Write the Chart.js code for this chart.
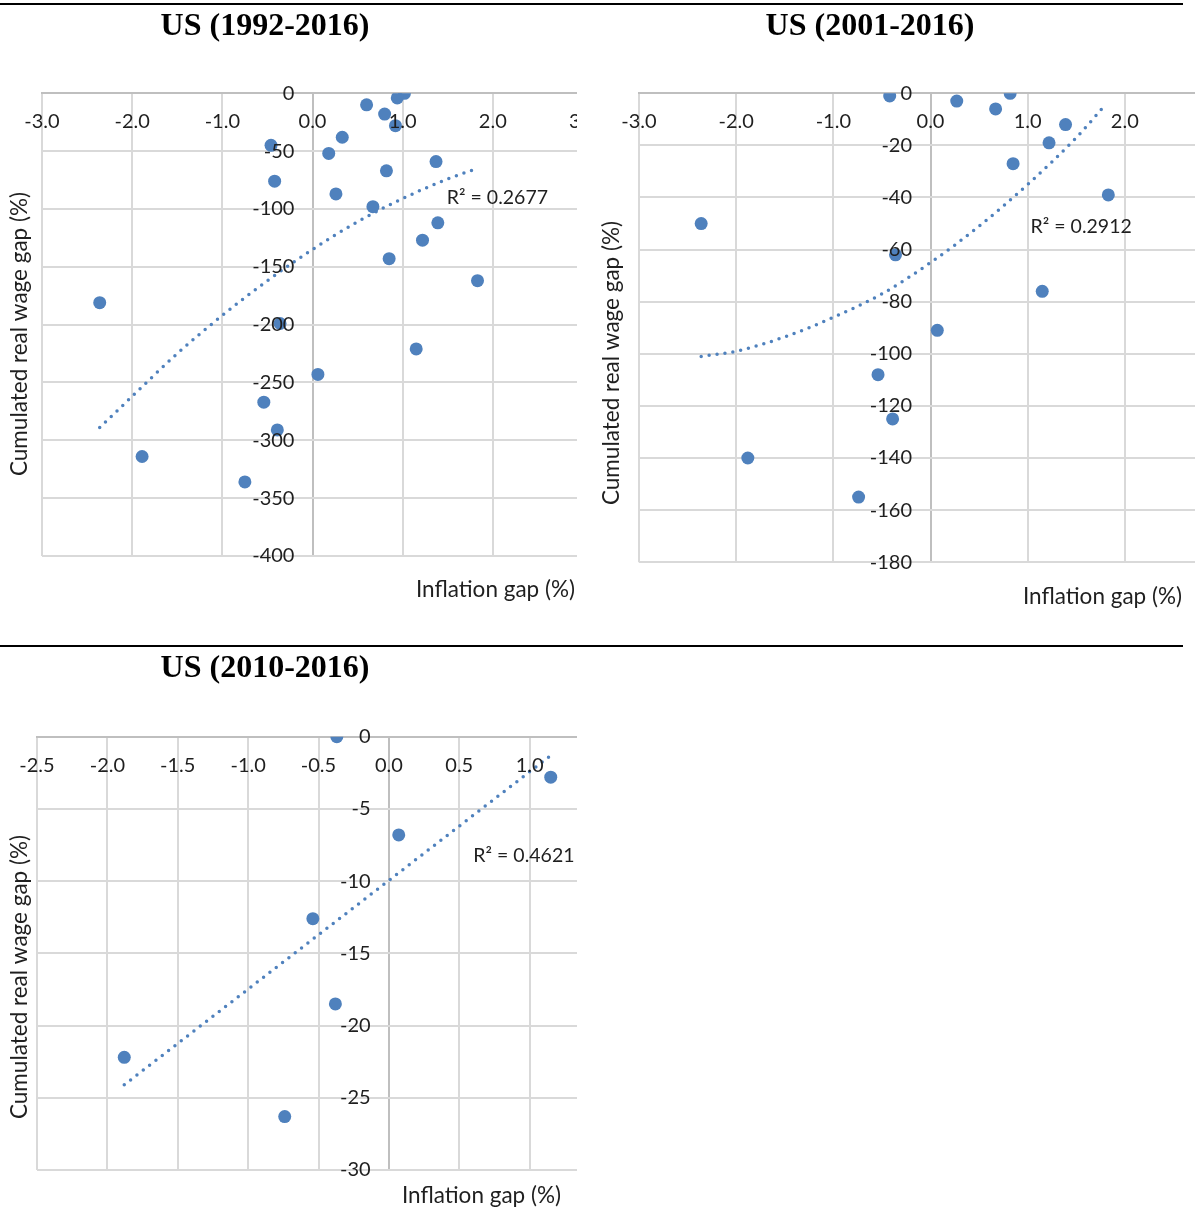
<!DOCTYPE html>
<html>
<head>
<meta charset="utf-8">
<title>US inflation gap vs cumulated real wage gap</title>
<script src="https://cdn.jsdelivr.net/npm/chart.js@4.4.1/dist/chart.umd.min.js"></script>
<style>
    html, body { margin: 0; padding: 0; background: #fff; overflow: hidden; }
    body { position: relative; width: 1195px; height: 1213px; }
    .rule { position: absolute; left: 0; width: 1183px; height: 2px; background: #000; }
    .title {
        position: absolute;
        font-family: 'Liberation Serif', 'Times New Roman', serif;
        font-weight: bold;
        font-size: 32px;
        line-height: 32px;
        white-space: nowrap;
        transform: translateX(-50%);
        z-index: 2;
    }
    .panel { position: absolute; overflow: hidden; }
    .panel canvas { position: absolute; left: 0; top: 0; }
</style>
</head>
<body>
<div class="rule" style="top:3px"></div>
<div class="rule" style="top:645px"></div>

<div class="title" style="left:265px; top:8px">US (1992-2016)</div>
<div class="title" style="left:870px; top:8px">US (2001-2016)</div>
<div class="title" style="left:265px; top:650px">US (2010-2016)</div>

<div class="panel" style="left:0; top:0; width:577px; height:620px">
    <canvas id="chart1992" width="640" height="620"></canvas>
</div>
<div class="panel" style="left:600px; top:0; width:595px; height:620px">
    <canvas id="chart2001" width="660" height="620"></canvas>
</div>
<div class="panel" style="left:0; top:640px; width:577px; height:573px">
    <canvas id="chart2010" width="640" height="573"></canvas>
</div>

<script>
// --- values ---

// US 1992-2016
const gap1992 = [1.02, 0.94, 0.60, 0.80, 0.92, 0.33, -0.46, 0.18, 1.37, 0.82, -0.42, 0.26, 0.67,
    1.39, 1.22, 0.85, 1.83, -2.36, -0.36, 1.15, 0.06, -0.54, -0.39, -1.89, -0.75];
const wage1992 = [0, -4, -10, -18, -28, -38, -45, -52, -59, -67, -76, -87, -98,
    -112, -127, -143, -162, -181, -199, -221, -243, -267, -291, -314, -336];
const trendX1992 = [-2.36, -2.0, -1.5, -1.0, -0.5, 0, 0.5, 1.0, 1.5, 1.83];
const trendY1992 = [-289, -262, -225, -192, -162, -135, -111, -91, -74, -65];
const xTicks1992 = [-3, -2, -1, 0, 1, 2, 3];
const yTicks1992 = [-400, -350, -300, -250, -200, -150, -100, -50, 0];

// US 2001-2016
const gap2001 = [-0.42, 0.27, 0.67, 0.82, 1.39, 1.22, 0.85, 1.83, -2.36, -0.36, 1.15, 0.07,
    -0.54, -0.39, -1.88, -0.74];
const wage2001 = [-1, -3, -6, 0, -12, -19, -27, -39, -50, -62, -76, -91,
    -108, -125, -140, -155];
const trendX2001 = [-2.36, -2.0, -1.5, -1.0, -0.5, 0, 0.5, 1.0, 1.5, 1.81];
const trendY2001 = [-101, -99, -93.5, -86, -77, -65, -51, -35, -17, -4];
const xTicks2001 = [-3, -2, -1, 0, 1, 2, 3];
const yTicks2001 = [-180, -160, -140, -120, -100, -80, -60, -40, -20, 0];

// US 2010-2016
const gap2010 = [-0.37, 1.15, 0.07, -0.54, -0.38, -1.88, -0.74];
const wage2010 = [0, -2.8, -6.8, -12.6, -18.5, -22.2, -26.3];
const trendX2010 = [-1.88, 1.15];
const trendY2010 = [-24.1, -1.3];
const xTicks2010 = [-2.5, -2.0, -1.5, -1.0, -0.5, 0, 0.5, 1.0, 1.5];
const yTicks2010 = [-30, -25, -20, -15, -10, -5, 0];

const BLUE = '#4f81bd';
const GRID = '#d9d9d9';
const AXIS = '#bfbfbf';
const TEXT = '#1f1f1f';
const FONT = 'Lato, "Noto Sans", sans-serif';

function pairs(xs, ys) {
    return xs.map((x, i) => ({ x: x, y: ys[i] }));
}

// axis titles and the R² note, drawn on the chart canvas
const captions = {
    id: 'captions',
    afterDraw(chart, args, opts) {
        const ctx = chart.ctx;
        ctx.save();
        ctx.fillStyle = TEXT;
        ctx.textBaseline = 'middle';

        ctx.font = '22.5px ' + FONT;
        ctx.save();
        ctx.translate(opts.yTitle.x, opts.yTitle.y);
        ctx.rotate(-Math.PI / 2);
        ctx.textAlign = 'center';
        ctx.fillText('Cumulated real wage gap (%)', 0, 0);
        ctx.restore();

        ctx.textAlign = 'right';
        ctx.fillText('Inflation gap (%)', opts.xTitle.x, opts.xTitle.y);

        // R² sits next to the trend line, anchored in data units
        ctx.font = '19.5px ' + FONT;
        ctx.textAlign = 'left';
        const px = chart.scales.x.getPixelForValue(opts.r2.at[0]);
        const py = chart.scales.y.getPixelForValue(opts.r2.at[1]);
        ctx.fillText(opts.r2.text, px, py);
        ctx.restore();
    }
};

function drawPanel(canvasId, p) {
    const canvas = document.getElementById(canvasId);
    if (!canvas) {
        console.error('canvas not found: ' + canvasId);
        return null;
    }

    return new Chart(canvas, {
        type: 'scatter',
        data: {
            datasets: [
                {
                    type: 'line',
                    label: 'Trend',
                    data: pairs(p.trendX, p.trendY),
                    borderColor: BLUE,
                    borderWidth: 3.5,
                    borderDash: [0, 8],
                    borderCapStyle: 'round',
                    cubicInterpolationMode: 'monotone',
                    pointRadius: 0,
                    fill: false
                },
                {
                    label: 'Observations',
                    data: pairs(p.gap, p.wage),
                    backgroundColor: BLUE,
                    borderWidth: 0,
                    pointRadius: 6.5,
                    pointHoverRadius: 6.5
                }
            ]
        },
        options: {
            responsive: false,
            animation: false,
            events: [],
            layout: { padding: p.pad },
            plugins: {
                legend: { display: false },
                tooltip: { enabled: false },
                captions: { yTitle: p.yTitle, xTitle: p.xTitle, r2: p.r2 }
            },
            scales: {
                x: {
                    type: 'linear',
                    position: { y: 0 },
                    min: p.xTicks[0],
                    max: p.xTicks[p.xTicks.length - 1],
                    ticks: {
                        stepSize: p.xTicks[1] - p.xTicks[0],
                        autoSkip: false,
                        maxRotation: 0,
                        padding: 16.5,
                        z: 1,
                        color: TEXT,
                        font: { family: FONT, size: 20 },
                        callback: v => v.toFixed(1)
                    },
                    grid: {
                        drawTicks: false,
                        lineWidth: 2,
                        color: c => (c.tick && c.tick.value === 0 ? AXIS : GRID)
                    },
                    border: { display: true, color: AXIS, width: 2 }
                },
                y: {
                    type: 'linear',
                    position: { x: p.yLabelAt },
                    min: p.yTicks[0],
                    max: p.yTicks[p.yTicks.length - 1],
                    ticks: {
                        stepSize: p.yTicks[1] - p.yTicks[0],
                        autoSkip: false,
                        padding: 0,
                        z: 1,
                        color: TEXT,
                        font: { family: FONT, size: 20 },
                        callback: v => String(v)
                    },
                    grid: { drawTicks: false, lineWidth: 2, color: GRID },
                    border: { display: false }
                }
            }
        },
        plugins: [captions]
    });
}

drawPanel('chart1992', {
    gap: gap1992, wage: wage1992, trendX: trendX1992, trendY: trendY1992,
    xTicks: xTicks1992, yTicks: yTicks1992,
    pad: { left: 42, top: 93.3, right: 57, bottom: 64 },
    yLabelAt: -0.2,
    yTitle: { x: 20, y: 334 },
    xTitle: { x: 575, y: 590 },
    r2: { text: 'R² = 0.2677', at: [1.49, -90.4] }
});

drawPanel('chart2001', {
    gap: gap2001, wage: wage2001, trendX: trendX2001, trendY: trendY2001,
    xTicks: xTicks2001, yTicks: yTicks2001,
    pad: { left: 39, top: 93.3, right: 38, bottom: 57.8 },
    yLabelAt: -0.19,
    yTitle: { x: 12, y: 363 },
    xTitle: { x: 582, y: 597 },
    r2: { text: 'R² = 0.2912', at: [1.03, -51.3] }
});

drawPanel('chart2010', {
    gap: gap2010, wage: wage2010, trendX: trendX2010, trendY: trendY2010,
    xTicks: xTicks2010, yTicks: yTicks2010,
    pad: { left: 37, top: 96.7, right: 40, bottom: 43 },
    yLabelAt: -0.13,
    yTitle: { x: 20, y: 337 },
    xTitle: { x: 561, y: 556 },
    r2: { text: 'R² = 0.4621', at: [0.60, -8.26] }
});
</script>
</body>
</html>
